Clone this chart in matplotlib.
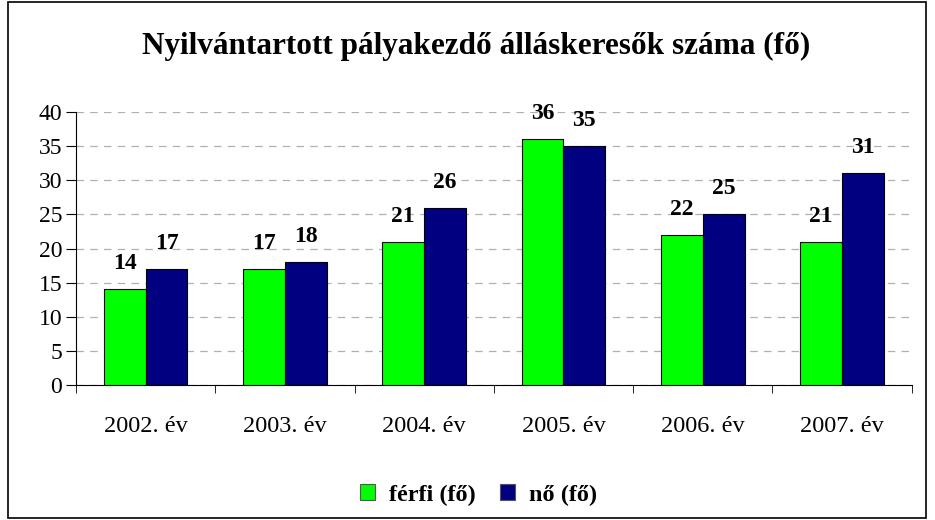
import numpy as np
import matplotlib.pyplot as plt
from matplotlib.patches import Rectangle

# adatok
evek = ['2002. év', '2003. év', '2004. év', '2005. év', '2006. év', '2007. év']
ferfi = [14, 17, 21, 36, 22, 21]
no = [17, 18, 26, 35, 25, 31]

zold = '#00ff00'
kek = '#000080'

plt.rcParams['font.family'] = ['Liberation Serif', 'DejaVu Serif']

fig = plt.figure(figsize=(9.35, 5.2), dpi=100)
ax = fig.add_axes([0.0813, 0.2596, 0.8937, 0.525])

# keret a teljes ábra körül
fig.patches.append(Rectangle((8 / 935, 2 / 520), 918 / 935, 516 / 520,
                             transform=fig.transFigure, fill=False,
                             edgecolor='black', linewidth=1.2))

x = np.arange(len(evek))
w = 0.3
b1 = ax.bar(x - w / 2, ferfi, w, color=zold, edgecolor='black', linewidth=0.8,
            label='férfi (fő)', zorder=3)
b2 = ax.bar(x + w / 2, no, w, color=kek, edgecolor='black', linewidth=0.8,
            label='nő (fő)', zorder=3)

for bars in (b1, b2):
    for r in bars:
        ax.text(r.get_x() + r.get_width() / 2, r.get_height() + 2.2,
                f'{int(r.get_height())}', ha='center', va='bottom',
                fontsize=17, fontweight='bold')

ax.set_xlim(-0.5, len(evek) - 0.5)
ax.set_ylim(0, 40)
ax.set_yticks(range(0, 41, 5))
ax.yaxis.grid(True, color='#b0b0b0', linestyle=(0, (6, 5)), linewidth=0.9)
ax.set_axisbelow(True)

ax.set_xticks(x)
ax.set_xticklabels(evek, fontsize=17.5)
ax.set_xticks(np.arange(-0.5, len(evek)), minor=True)
ax.tick_params(axis='x', which='major', length=0, pad=22)
ax.tick_params(axis='x', which='minor', length=6, direction='out')
ax.tick_params(axis='y', labelsize=17, length=7, direction='out', pad=3)

for s in ('top', 'right'):
    ax.spines[s].set_visible(False)

fig.text(0.509, 0.91, 'Nyilvántartott pályakezdő álláskeresők száma (fő)',
         ha='center', va='center', fontsize=22.5, fontweight='bold')

leg = fig.legend(loc='center', bbox_to_anchor=(0.512, 0.048), ncol=2,
                 frameon=False, prop={'weight': 'bold', 'size': 17.5},
                 handlelength=0.6, handleheight=0.6, columnspacing=1.0,
                 handletextpad=0.6)
for h in leg.legend_handles:
    h.set_edgecolor('#555555')

fig.savefig('out.png', dpi=100)
